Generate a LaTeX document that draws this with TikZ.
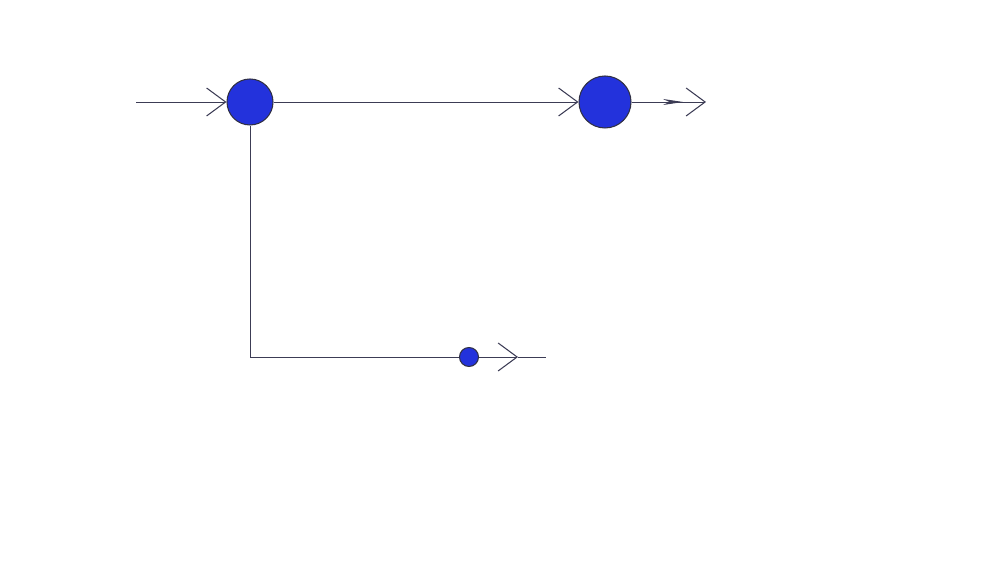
\documentclass[tikz,border=0pt]{standalone}
\usepackage{xcolor}
\usepackage{tikz}
\usetikzlibrary{arrows.meta}
\definecolor{wire}{RGB}{60,60,85}
\definecolor{blob}{RGB}{35,50,220}
\tikzset{
	main node/.style={circle,draw=wire!80!black,fill=blob,line width=0.6pt,inner sep=0pt},
	barb/.style={-{Straight Barb[length=0.38cm,width=0.56cm,line width=0.6pt]}},
	wire line/.style={draw=wire,line width=0.55pt}
}

\begin{document}
\begin{tikzpicture}[wire line]
	\useasboundingbox (0,0) rectangle (20,11.24);
	\node [main node,minimum size=0.92cm] (1) at (5.0,9.2) {};
	\node [main node,minimum size=1.04cm] (2) at (12.1,9.2) {};
	\node [main node,minimum size=0.38cm] (3) at (9.38,4.1) {};
	\coordinate (in) at (2.72,9.2);
	\coordinate (out) at (14.12,9.2);
	\coordinate (mid) at (13.66,9.2);
	\coordinate (tip) at (10.36,4.1);
	\coordinate (end) at (10.92,4.1);
	% top line
	\draw [barb] (in) -- (1);
	\draw [barb] (1) -- (2);
	\draw [barb] (2) -- (out);
	\draw [-{Stealth[length=0.4cm,width=0.12cm]}] (2) -- (mid);
	% branch
	\draw (1) |- (3);
	\draw [barb] (3) -- (tip);
	\draw (tip) -- (end);
\end{tikzpicture}
\end{document}
